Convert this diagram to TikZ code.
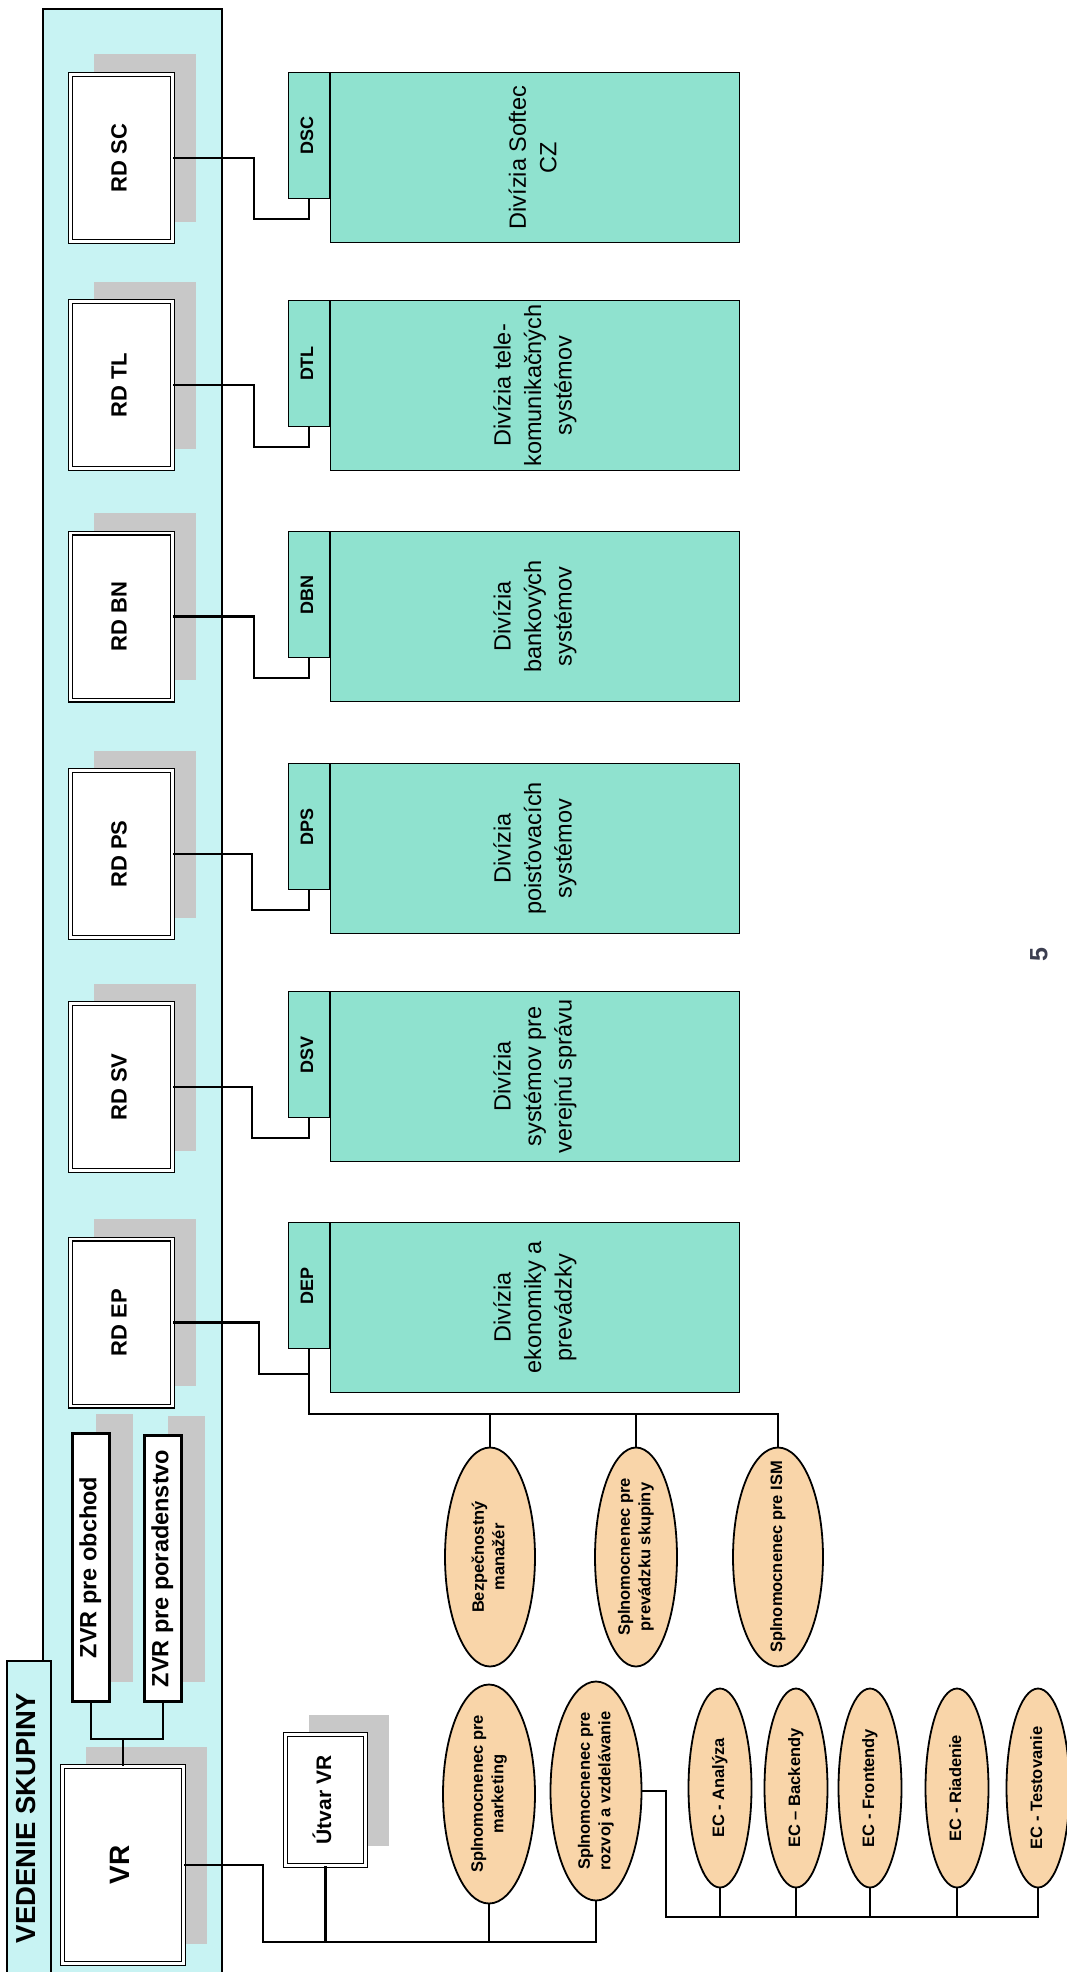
\documentclass[tikz,border=0pt]{standalone}
\usepackage{fontspec}
\setmainfont{Liberation Sans}
\usetikzlibrary{shapes.geometric,shadows}
\definecolor{grpcyan}{RGB}{200,243,243}
\definecolor{divteal}{RGB}{143,226,207}
\definecolor{peach}{RGB}{249,213,169}
\definecolor{shadowgray}{RGB}{200,200,200}
\definecolor{pagenum}{RGB}{60,62,80}
\newcommand{\vtxt}[1]{\rotatebox{90}{\begin{tabular}{@{}c@{}}#1\end{tabular}}}
\begin{document}
\begin{tikzpicture}[x=1pt,y=-1pt,
  conn/.style={line width=2.2pt},
  shadowed/.style={drop shadow={shadow xshift=23pt,shadow yshift=20pt,fill=shadowgray,opacity=1,draw=none}},
  dblbox/.style={rectangle,draw=black,line width=1.2pt,double=white,double distance=2.6pt,fill=white,inner sep=0pt,shadowed},
  rdbox/.style={dblbox,minimum width=102pt,minimum height=167pt,font=\fontsize{22}{26}\selectfont\bfseries},
  zvrbox/.style={rectangle,draw=black,line width=3pt,fill=white,inner sep=0pt,minimum width=37pt,shadowed,font=\fontsize{23.5}{27}\selectfont\bfseries},
  tabbox/.style={rectangle,draw=black,line width=1.6pt,fill=divteal,inner sep=0pt,minimum width=41pt,minimum height=126pt,font=\fontsize{18}{21}\selectfont\bfseries},
  divbox/.style={rectangle,draw=black,line width=1.6pt,fill=divteal,inner sep=0pt,minimum width=409pt,minimum height=170pt,font=\fontsize{23.5}{30.5}\selectfont},
  oval/.style={ellipse,draw=black,line width=1.8pt,fill=peach,inner sep=-40pt,font=\fontsize{16.5}{20.5}\selectfont\bfseries},
  ecoval/.style={oval,minimum width=63pt,minimum height=199pt},
  grptab/.style={rectangle,draw=black,line width=2.5pt,fill=grpcyan,inner sep=0pt,minimum width=44pt,minimum height=314pt,font=\fontsize{27.5}{32}\selectfont\bfseries}
]
\useasboundingbox (0,0) rectangle (1067,1972);
\clip (0,0) rectangle (1067,1972);
\fill[white] (0,0) rectangle (1067,1972);

% group box
\draw[line width=2.5pt,fill=grpcyan] (43,9) rectangle (222,2000);

% RD boxes
\node[rdbox] (rdsc) at (121.5,158) {\vtxt{RD SC}};
\node[rdbox] (rdtl) at (121.5,385) {\vtxt{RD TL}};
\node[rdbox] (rdbn) at (121.5,616.5) {\vtxt{RD BN}};
\node[rdbox] (rdps) at (121.5,854) {\vtxt{RD PS}};
\node[rdbox] (rdsv) at (121.5,1087) {\vtxt{RD SV}};
\node[rdbox] (rdep) at (121.5,1322.5) {\vtxt{RD EP}};

% ZVR, VR
\node[zvrbox,minimum height=268pt] (zvro) at (91,1567.5) {\vtxt{ZVR pre obchod}};
\node[zvrbox,minimum height=266pt] (zvrp) at (163,1568.5) {\vtxt{ZVR pre poradenstvo}};
\node[dblbox,minimum width=121pt,minimum height=197pt,font=\fontsize{28}{32}\selectfont\bfseries] (vr) at (123,1865) {\vtxt{VR}};
\node[grptab] (vstab) at (29,1818) {\vtxt{VEDENIE SKUPINY}};
\node[dblbox,minimum width=80pt,minimum height=131pt,font=\fontsize{21}{25}\selectfont\bfseries] (utvar) at (325.5,1800) {\vtxt{Útvar VR}};

% divisions
\node[divbox] (dsc) at (535,157.5) {\vtxt{Divízia Softec\\CZ}};
\node[tabbox] (dsctab) at (309,135.5) {\vtxt{DSC}};
\node[divbox] (dtl) at (535,385.5) {\vtxt{Divízia tele-\\komunikačných\\systémov}};
\node[tabbox] (dtltab) at (309,363.5) {\vtxt{DTL}};
\node[divbox] (dbn) at (535,616.5) {\vtxt{Divízia\\bankových\\systémov}};
\node[tabbox] (dbntab) at (309,594.5) {\vtxt{DBN}};
\node[divbox] (dps) at (535,848.5) {\vtxt{Divízia\\poisťovacích\\systémov}};
\node[tabbox] (dpstab) at (309,826.5) {\vtxt{DPS}};
\node[divbox] (dsv) at (535,1076.5) {\vtxt{Divízia\\systémov pre\\verejnú správu}};
\node[tabbox] (dsvtab) at (309,1054.5) {\vtxt{DSV}};
\node[divbox] (dep) at (535,1307.5) {\vtxt{Divízia\\ekonomiky a\\prevádzky}};
\node[tabbox] (deptab) at (309,1285.5) {\vtxt{DEP}};

% ovals
\node[oval,minimum width=90pt,minimum height=219pt] (bez) at (490,1557) {\vtxt{Bezpečnostný\\manažér}};
\node[oval,minimum width=82pt,minimum height=219pt] (prev) at (636,1557) {\vtxt{Splnomocnenec pre\\prevádzku skupiny}};
\node[oval,minimum width=90pt,minimum height=219pt] (ism) at (778,1557) {\vtxt{Splnomocnenec pre ISM}};
\node[oval,minimum width=92pt,minimum height=219pt] (mark) at (489,1794) {\vtxt{Splnomocnenec pre\\marketing}};
\node[oval,minimum width=91pt,minimum height=219pt] (rozvoj) at (596,1791) {\vtxt{Splnomocnenec pre\\rozvoj a vzdelávanie}};
\node[ecoval] (eca) at (720,1788) {\vtxt{EC - Analýza}};
\node[ecoval] (ecb) at (796,1788) {\vtxt{EC – Backendy}};
\node[ecoval] (ecf) at (870,1788) {\vtxt{EC - Frontendy}};
\node[ecoval] (ecr) at (957,1788) {\vtxt{EC - Riadenie}};
\node[ecoval] (ect) at (1038,1788) {\vtxt{EC - Testovanie}};

% page number
\node[rotate=90,font=\fontsize{25}{28}\selectfont\bfseries,text=pagenum] (pnum) at (1039,955) {5};

% connectors RD -> divisions
\draw[conn] (rdsc.east) -| (254,219) -| (dsctab.south);
\draw[conn] (rdtl.east) -| (254,447) -| (dtltab.south);
\draw[conn] (rdbn.east) -| (254,678) -| (dbntab.south);
\draw[conn] (rdps.east) -| (252,910) -| (dpstab.south);
\draw[conn] (rdsv.east) -| (252,1138) -| (dsvtab.south);
\draw[conn] (rdep.east) -| (259,1374) -| (deptab.south);

% DEP bus
\coordinate (depbus) at (309,1414);
\draw[conn] (deptab.south) -- (depbus) -| (ism.north);
\draw[conn] (bez.north) -- (bez.north |- depbus);
\draw[conn] (prev.north) -- (prev.north |- depbus);

% ZVR -> VR
\coordinate (zj) at (123,1739);
\draw[conn] (zvro.south) |- (zj) -| (zvrp.south);
\draw[conn] (zj) -- (vr.north);

% VR bus
\coordinate (vbus) at (263,1942);
\draw[conn] (vr.east) -| (vbus) -| (rozvoj.south);
\draw[conn] (utvar.south) -- (utvar.south |- vbus);
\draw[conn] (mark.south) -- (mark.south |- vbus);

% EC bus
\coordinate (ecbus) at (666,1917);
\draw[conn] (rozvoj.east) -| (ecbus) -| (ect.south);
\draw[conn] (eca.south) -- (eca.south |- ecbus);
\draw[conn] (ecb.south) -- (ecb.south |- ecbus);
\draw[conn] (ecf.south) -- (ecf.south |- ecbus);
\draw[conn] (ecr.south) -- (ecr.south |- ecbus);
\end{tikzpicture}
\end{document}
